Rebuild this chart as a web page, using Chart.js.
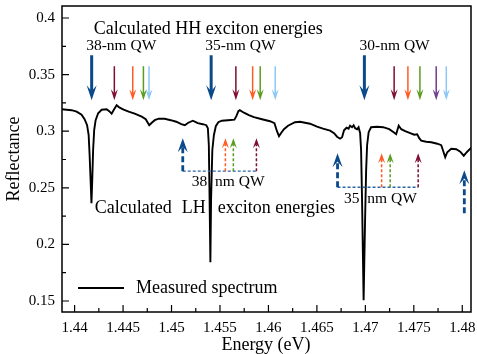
<!DOCTYPE html>
<html><head><meta charset="utf-8">
<script src="https://cdn.jsdelivr.net/npm/chart.js@4/dist/chart.umd.min.js"></script>
<style>html,body{margin:0;padding:0;background:#fff}#wrap{width:477px;height:354px}</style>
</head><body><div id="wrap"><canvas id="c" width="477" height="354"></canvas></div>
<script>
// ---------- DATA ----------
const energy = [1.43866,1.43917,1.43969,1.44021,1.44072,1.44103,1.44129,1.44145,1.44155,1.44165,1.44174,1.44182,1.44191,1.44202,1.44217,1.44243,1.44279,1.44331,1.44357,1.44382,1.44408,1.44434,1.44465,1.44506,1.44558,1.44620,1.44693,1.44734,1.44770,1.44796,1.44827,1.44868,1.44930,1.44992,1.45049,1.45101,1.45137,1.45173,1.45220,1.45271,1.45323,1.45359,1.45375,1.45385,1.45393,1.45401,1.45408,1.45421,1.45437,1.45457,1.45483,1.45519,1.45581,1.45649,1.45669,1.45690,1.45705,1.45747,1.45798,1.45850,1.45933,1.46016,1.46062,1.46088,1.46109,1.46129,1.46160,1.46202,1.46274,1.46326,1.46429,1.46501,1.46563,1.46636,1.46677,1.46708,1.46739,1.46760,1.46780,1.46806,1.46827,1.46842,1.46863,1.46879,1.46894,1.46915,1.46930,1.46946,1.46956,1.46966,1.46982,1.46997,1.47008,1.47018,1.47034,1.47059,1.47121,1.47183,1.47246,1.47292,1.47318,1.47333,1.47344,1.47370,1.47411,1.47463,1.47504,1.47535,1.47556,1.47576,1.47628,1.47680,1.47742,1.47783,1.47804,1.47824,1.47845,1.47886,1.47938,1.47979,1.48015,1.48051,1.48093];
const reflectance = [0.31943,0.31899,0.31855,0.31723,0.31458,0.31060,0.30530,0.29647,0.27880,0.25671,0.23640,0.25671,0.28322,0.30088,0.30972,0.31590,0.31899,0.31943,0.31767,0.31546,0.31943,0.32297,0.32076,0.31899,0.31723,0.31546,0.31281,0.31060,0.30530,0.30751,0.30972,0.31104,0.31104,0.30972,0.30839,0.30618,0.30530,0.30751,0.30928,0.30707,0.30618,0.30530,0.30265,0.28763,0.23905,0.18428,0.23905,0.28322,0.29647,0.30442,0.30795,0.30928,0.30972,0.31016,0.31325,0.31767,0.31855,0.31634,0.31413,0.31237,0.31060,0.30883,0.30707,0.30000,0.29558,0.29823,0.30177,0.30486,0.30795,0.30839,0.30663,0.30398,0.30221,0.30044,0.29823,0.29514,0.29337,0.29470,0.30088,0.30309,0.30221,0.30486,0.30353,0.30530,0.30265,0.30177,0.30353,0.29823,0.28322,0.23905,0.15071,0.22138,0.26555,0.28763,0.29912,0.30353,0.30398,0.30353,0.30177,0.29912,0.29735,0.30177,0.30486,0.30177,0.30000,0.29823,0.29691,0.29735,0.29382,0.29161,0.29072,0.29028,0.28896,0.28763,0.28233,0.27703,0.28145,0.28454,0.28410,0.28189,0.27836,0.28189,0.28542];

const xTickValues = [1.44,1.445,1.45,1.455,1.46,1.465,1.47,1.475,1.48];
const xTickLabels = ["1.44","1.445","1.45","1.455","1.46","1.465","1.47","1.475","1.48"];
const xMinorTicks = [1.4425,1.4475,1.4525,1.4575,1.4625,1.4675,1.4725,1.4775];
const yTickValues = [0.15,0.2,0.25,0.3,0.35,0.4];
const yTickLabels = ["0.15","0.2","0.25","0.3","0.35","0.4"];
const yMinorTicks = [0.175,0.225,0.275,0.325,0.375];

// calculated HH exciton energies (eV), levels in order
const hh38 = [1.44176,1.44410,1.44600,1.44710,1.44768];
const hh35 = [1.45409,1.45664,1.45837,1.45915,1.46070];
const hh30 = [1.46990,1.47297,1.47439,1.47563,1.47731,1.47835];
// calculated LH exciton energies (eV)
const lh38 = [1.45116,1.45556,1.45638,1.45876];
const lh35 = [1.46713,1.47168,1.47256,1.47545];
const lh30 = [1.48021];

const titleHH = "Calculated HH exciton energies";
const groupLabels = ["38-nm QW","35-nm QW","30-nm QW"];
const lhGroupLabels = ["38  nm QW","35  nm QW"];
const titleLH = ["Calculated","LH","exciton energies"];
const legendLabel = "Measured spectrum";
const xTitle = "Energy (eV)";
const yTitle = "Reflectance";

// ---------- STYLE ----------
const C = {blue:'#0b4a8a', red:'#7d0c36', orange:'#ff5b22', green:'#5b9c1f', lblue:'#8cc8f6', purple:'#6c3d90', hline:'#2f64a6'};
const hhColors5 = [C.blue,C.red,C.orange,C.green,C.lblue];
const hhColors6 = [C.blue,C.red,C.orange,C.green,C.purple,C.lblue];
const lhColors4 = [C.blue,C.orange,C.green,C.red];
const FONT = "'Liberation Serif','Times New Roman',serif";

function arrow(ctx, x, yTail, yTip, color, lw, hw, hl, dash) {
  const dir = yTip > yTail ? 1 : -1;
  ctx.save();
  ctx.strokeStyle = color; ctx.fillStyle = color; ctx.lineWidth = lw;
  ctx.setLineDash(dash || []);
  ctx.beginPath(); ctx.moveTo(x, yTail); ctx.lineTo(x, yTip - dir*hl*0.6); ctx.stroke();
  ctx.setLineDash([]);
  ctx.beginPath();
  ctx.moveTo(x, yTip);
  ctx.lineTo(x - hw/2, yTip - dir*hl);
  ctx.lineTo(x, yTip - dir*hl*0.6);
  ctx.lineTo(x + hw/2, yTip - dir*hl);
  ctx.closePath(); ctx.fill();
  ctx.restore();
}

const overlay = {
  id: 'overlay',
  afterDraw(chart) {
    const ctx = chart.ctx, a = chart.chartArea;
    const xs = chart.scales.x, ys = chart.scales.y;
    const X = v => xs.getPixelForValue(v), Y = v => ys.getPixelForValue(v);
    ctx.save();
    // frame
    ctx.strokeStyle = '#000'; ctx.lineWidth = 1.5;
    ctx.strokeRect(a.left, a.top, a.right - a.left, a.bottom - a.top);
    // inward ticks
    ctx.lineWidth = 1.2;
    ctx.beginPath();
    xTickValues.forEach(v => { const p = X(v); ctx.moveTo(p, a.bottom); ctx.lineTo(p, a.bottom - 7); });
    xMinorTicks.forEach(v => { const p = X(v); ctx.moveTo(p, a.bottom); ctx.lineTo(p, a.bottom - 4); });
    yTickValues.forEach(v => { const p = Y(v); ctx.moveTo(a.left, p); ctx.lineTo(a.left + 7, p); });
    yMinorTicks.forEach(v => { const p = Y(v); ctx.moveTo(a.left, p); ctx.lineTo(a.left + 4, p); });
    ctx.stroke();

    // HH arrows (solid, pointing down)
    const hhTopThick = Y(0.3671), hhTopThin = Y(0.3574), hhTip = Y(0.3274);
    [[hh38,hhColors5],[hh35,hhColors5],[hh30,hhColors6]].forEach(([arr, cols]) => {
      arr.forEach((e, i) => {
        if (i === 0) arrow(ctx, X(e), hhTopThick, hhTip, cols[i], 3, 10, 15);
        else arrow(ctx, X(e), hhTopThin, hhTip, cols[i], 1.5, 7, 11);
      });
    });

    // LH arrows (dashed, pointing up)
    const lhSets = [[lh38, 0.2938, 0.2647],[lh35, 0.2806, 0.2505]];
    lhSets.forEach(([arr, tip, base]) => {
      const yb = Y(base), yt = Y(tip);
      ctx.save();
      ctx.strokeStyle = C.hline; ctx.lineWidth = 1.3; ctx.setLineDash([3,2]);
      ctx.beginPath(); ctx.moveTo(X(arr[0]), yb); ctx.lineTo(X(arr[arr.length-1]), yb); ctx.stroke();
      ctx.restore();
      arr.forEach((e, i) => {
        if (i === 0) arrow(ctx, X(e), yb, yt, lhColors4[i], 2.8, 10, 14, [6,3]);
        else arrow(ctx, X(e), yb, yt, lhColors4[i], 1.5, 7, 10, [3,2]);
      });
    });
    lh30.forEach(e => arrow(ctx, X(e), Y(0.2276), Y(0.2656), C.blue, 2.8, 10, 14, [6,3]));

    // texts
    ctx.fillStyle = '#000'; ctx.textBaseline = 'middle';
    ctx.font = '18px ' + FONT; ctx.textAlign = 'left';
    ctx.fillText(titleHH, X(1.44197), Y(0.39));
    ctx.font = '15.5px ' + FONT; ctx.textAlign = 'center';
    [1.44481, 1.45711, 1.47302].forEach((e, i) => ctx.fillText(groupLabels[i], X(e), Y(0.3757)));
    ctx.textAlign = 'left';
    ctx.fillText(lhGroupLabels[0], X(1.45209), Y(0.2550));
    ctx.fillText(lhGroupLabels[1], X(1.46780), Y(0.2400));
    ctx.font = '18px ' + FONT;
    ctx.fillText(titleLH[0], X(1.44207), Y(0.2320));
    ctx.fillText(titleLH[1], X(1.45106), Y(0.2320));
    ctx.fillText(titleLH[2], X(1.45478), Y(0.2320));
    // legend
    ctx.strokeStyle = '#000'; ctx.lineWidth = 2;
    ctx.beginPath(); ctx.moveTo(78, 288); ctx.lineTo(124, 288); ctx.stroke();
    ctx.fillText(legendLabel, 136, 288);
    // axis titles
    ctx.textAlign = 'center';
    ctx.fillText(xTitle, 266, 345);
    ctx.save(); ctx.translate(14, 159); ctx.rotate(-Math.PI/2); ctx.fillText(yTitle, 0, 0); ctx.restore();
    ctx.restore();
  }
};

new Chart(document.getElementById('c'), {
  type: 'line',
  data: {
    datasets: [{
      label: legendLabel,
      data: energy.map((e, i) => ({x: e, y: reflectance[i]})),
      borderColor: '#000', borderWidth: 1.9, pointRadius: 0, tension: 0, fill: false
    }]
  },
  options: {
    responsive: false, animation: false, devicePixelRatio: 1,
    layout: {padding: {top: 6, right: 6, left: 0, bottom: 0}},
    plugins: {legend: {display: false}, tooltip: {enabled: false}, title: {display: false}},
    scales: {
      x: {
        type: 'linear', min: 1.4387, max: 1.4809,
        afterBuildTicks: s => { s.ticks = xTickValues.map(v => ({value: v})); },
        afterFit: s => { s.height = 42; s.paddingLeft = 0; s.paddingRight = 0; },
        ticks: {callback: v => xTickLabels[xTickValues.findIndex(t => Math.abs(t - v) < 1e-9)],
                font: {family: FONT, size: 15}, color: '#000', padding: 7, maxRotation: 0, autoSkip: false},
        grid: {display: false, drawTicks: false}, border: {display: false}
      },
      y: {
        type: 'linear', min: 0.1403, max: 0.4106,
        afterBuildTicks: s => { s.ticks = yTickValues.map(v => ({value: v})); },
        afterFit: s => { s.width = 62; s.paddingTop = 0; s.paddingBottom = 0; },
        ticks: {callback: v => yTickLabels[yTickValues.findIndex(t => Math.abs(t - v) < 1e-9)],
                font: {family: FONT, size: 15}, color: '#000', padding: 7, autoSkip: false},
        grid: {display: false, drawTicks: false}, border: {display: false}
      }
    }
  },
  plugins: [overlay]
});
</script></body></html>
